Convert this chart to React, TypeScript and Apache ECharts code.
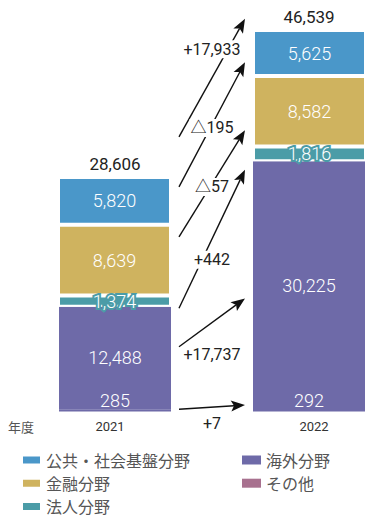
import React, { useEffect, useRef } from 'react';
import * as echarts from 'echarts';

// categories (middle slot holds the change arrows)
const years = ['2021', '', '2022'];
// series values (2021, 2022)
const other = [285, 292];
const overseas = [12488, 30225];
const corporate = [1374, 1816];
const finance = [8639, 8582];
const publicInfra = [5820, 5625];
const totals = [28606, 46539];

// annotation arrows in value units: total, public, finance, corporate, overseas, other
const arrowFrom = [33500, 27400, 21300, 12600, 7900, 270];
const arrowTo = [47900, 42600, 34300, 29500, 13800, 790];
const arrowLabelAt = [44200, 34600, 27400, 18500, 6900, -1500];

const C_BLUE = '#4a97c9';
const C_GOLD = '#cfb35f';
const C_TEAL = '#4b9ca7';
const C_PURPLE = '#6e6aa8';
const C_PINK = '#a8718f';

const fmt = (v: number) => v.toLocaleString('en-US');
const fmtDiff = (v: number) => (v >= 0 ? '+' + fmt(v) : '△' + fmt(Math.abs(v)));
const row = (a: number[]) => [a[0], '-', a[1]];

export default function App() {
  const ref = useRef<HTMLDivElement>(null);
  useEffect(() => {
    if (!ref.current) return;
    const chart = echarts.init(ref.current, null, { renderer: 'svg' });
    const innerLabel = {
      show: true,
      position: 'inside',
      color: '#fff',
      fontSize: 18,
      fontWeight: 300,
      fontFamily: 'Roboto',
      formatter: (p: any) => fmt(p.value),
    };
    const border = { borderColor: '#fff', borderWidth: 2 };
    const yMax = other[1] + overseas[1] + corporate[1] + finance[1] + publicInfra[1];
    const legendCommon = {
      orient: 'vertical',
      top: 452,
      height: 80,
      padding: 0,
      itemGap: 7.2,
      itemWidth: 19,
      itemHeight: 9,
      itemTextGap: 5,
      icon: 'rect',
      selectedMode: false,
      textStyle: { fontSize: 16, lineHeight: 14, color: '#555', fontFamily: 'Noto Sans CJK JP' },
    };
    chart.setOption({
      animation: false,
      grid: { left: 59, right: 6, top: 30, bottom: 105.5 },
      xAxis: {
        type: 'category',
        data: years,
        axisLine: { show: false },
        axisTick: { show: false },
        axisLabel: { fontSize: 13, color: '#333', margin: 8, fontFamily: 'Roboto' },
      },
      yAxis: { type: 'value', min: 0, max: yMax, show: false },
      legend: [
        { ...legendCommon, left: 21, data: [{ name: '公共・社会基盤分野' }, { name: '金融分野' }, { name: '法人分野' }] },
        { ...legendCommon, left: 242, data: [{ name: '海外分野' }, { name: 'その他', itemStyle: { color: C_PINK } }] },
      ],
      series: [
        {
          name: 'その他', type: 'bar', stack: 's', barWidth: 122, data: row(other),
          itemStyle: { color: C_PURPLE, borderWidth: 0 },
          label: { ...innerLabel, position: 'insideBottom', distance: 2 },
        },
        {
          name: '海外分野', type: 'bar', stack: 's', barWidth: 122, data: row(overseas),
          itemStyle: { color: C_PURPLE, borderWidth: 0 },
          label: { ...innerLabel },
        },
        {
          name: '法人分野', type: 'bar', stack: 's', barWidth: 122, data: row(corporate),
          itemStyle: { color: C_TEAL, ...border },
          label: { ...innerLabel, textBorderColor: C_TEAL, textBorderWidth: 4 },
        },
        {
          name: '金融分野', type: 'bar', stack: 's', barWidth: 122, data: row(finance),
          itemStyle: { color: C_GOLD, ...border },
          label: { ...innerLabel },
        },
        {
          name: '公共・社会基盤分野', type: 'bar', stack: 's', barWidth: 122, data: row(publicInfra),
          itemStyle: { color: C_BLUE, ...border },
          label: { ...innerLabel },
        },
        {
          name: '合計', type: 'bar', stack: 's', barWidth: 122, data: [0, '-', 0],
          itemStyle: { color: 'transparent' },
          label: {
            show: true, position: 'top', distance: 5, color: '#222', fontSize: 17, fontFamily: 'Roboto',
            formatter: (p: any) => fmt(totals[p.dataIndex === 0 ? 0 : 1]),
          },
        },
      ],
    });

    const diffs = [
      totals[1] - totals[0],
      publicInfra[1] - publicInfra[0],
      finance[1] - finance[0],
      corporate[1] - corporate[0],
      overseas[1] - overseas[0],
      other[1] - other[0],
    ];
    const px = (i: number, v: number) => chart.convertToPixel({ gridIndex: 0 }, [i, v]) as number[];
    const half = 60;
    const elements: any[] = [];
    diffs.forEach((d, k) => {
      const s = px(0, arrowFrom[k]);
      const t = px(2, arrowTo[k]);
      const x1 = s[0] + half + 9;
      const y1 = s[1];
      const x2 = t[0] - half - 9;
      const y2 = t[1];
      const len = Math.hypot(x2 - x1, y2 - y1);
      const ux = (x2 - x1) / len;
      const uy = (y2 - y1) / len;
      const nx = -uy;
      const ny = ux;
      const L = 14;
      const W = 5.5;
      const notch = 3;
      elements.push({
        type: 'line', z: 10,
        shape: { x1, y1, x2: x2 - (L - notch) * ux, y2: y2 - (L - notch) * uy },
        style: { stroke: '#111', lineWidth: 1.4 },
      });
      elements.push({
        type: 'polygon', z: 10,
        shape: {
          points: [
            [x2, y2],
            [x2 - L * ux + W * nx, y2 - L * uy + W * ny],
            [x2 - (L - notch) * ux, y2 - (L - notch) * uy],
            [x2 - L * ux - W * nx, y2 - L * uy - W * ny],
          ],
        },
        style: { fill: '#111' },
      });
      const lp = px(1, arrowLabelAt[k]);
      elements.push({
        type: 'text', z: 20,
        style: {
          text: fmtDiff(d), x: lp[0], y: lp[1], align: 'center', verticalAlign: 'middle',
          fill: '#222', fontSize: 16, fontFamily: "Roboto, 'Noto Sans CJK JP'",
          backgroundColor: '#fff', padding: [1, 1],
        },
      });
    });
    const base = px(0, 0);
    elements.push({
      type: 'text', z: 20,
      style: {
        text: '年度', x: 8, y: base[1] + 14.5, align: 'left', verticalAlign: 'middle',
        fill: '#555', fontSize: 13, fontFamily: 'Noto Sans CJK JP',
      },
    });
    chart.setOption({ graphic: { elements } });
    return () => chart.dispose();
  }, []);
  return <div ref={ref} style={{ position: 'absolute', left: 0, top: 0, width: 371, height: 517 }} />;
}
